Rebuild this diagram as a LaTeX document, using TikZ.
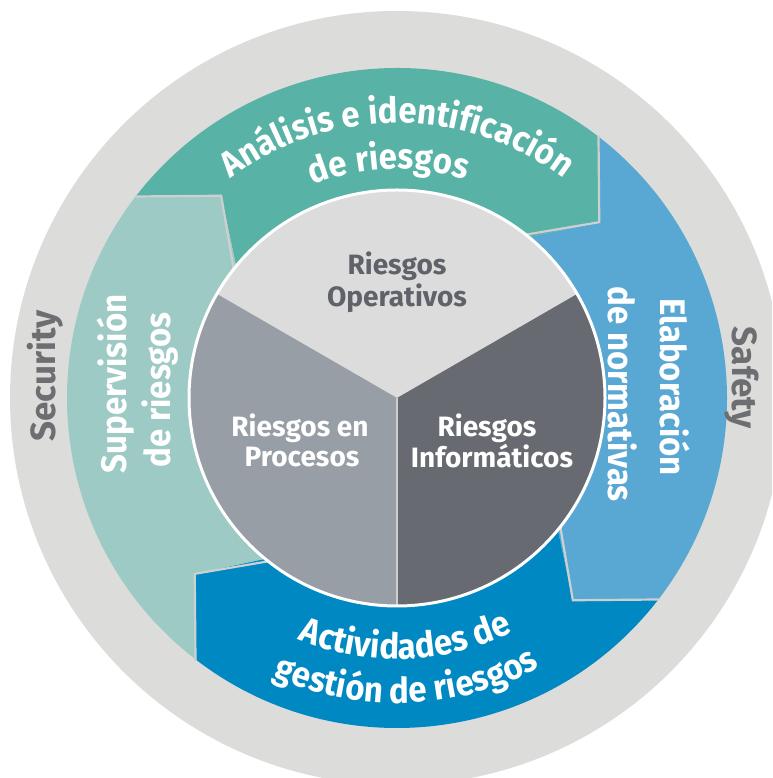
\documentclass[tikz,border=0pt]{standalone}
\usepackage{fontspec}
\setmainfont{Fira Sans}
\newfontfamily\ringfam{Fira Sans}[FakeStretch=0.93]
\usetikzlibrary{decorations.text}
\definecolor{ringgray}{HTML}{DCDCDB}
\definecolor{tealA}{HTML}{58B2A6}
\definecolor{tealB}{HTML}{9DCAC4}
\definecolor{blueA}{HTML}{59A8D4}
\definecolor{blueB}{HTML}{0088C2}
\definecolor{sectop}{HTML}{DCDCDC}
\definecolor{secleft}{HTML}{979EA5}
\definecolor{secright}{HTML}{676A70}
\definecolor{txtdark}{HTML}{5F6268}
\definecolor{txtgray}{HTML}{6D6E71}
\definecolor{edgegray}{HTML}{CDD0D1}
\newcommand\ringfont{\ringfam\fontsize{35.5}{42}\selectfont\bfseries}
\newcommand\innerfont{\fontsize{28}{33}\selectfont\bfseries}
\newcommand\outfont{\fontsize{35}{42}\selectfont\bfseries}
\begin{document}
\begin{tikzpicture}[x=1pt,y=1pt,
  junction/.style={draw=edgegray, line width=2.2pt, line join=miter},
  innertext/.style={font=\innerfont, inner sep=0pt, anchor=base},
  ringlabel/.style={font=\ringfont, text=white, inner sep=0pt, anchor=base},
  outlabel/.style={font=\outfont, text=txtgray, inner sep=0pt, anchor=base}]
\useasboundingbox (0,0) rectangle (772,778);
\clip (0,0) rectangle (772,778);
\fill[white] (0,0) rectangle (772,778);
\begin{scope}[shift={(397,380)}]
  \fill[ringgray] (0,0) circle[radius=387];
  % ring segments (chevrons)
  \foreach \s/\e/\c in {142.5/52.5/tealA, 52.5/-37.5/blueA, -37.5/-127.5/blueB, 232.5/142.5/tealB}{
    \fill[\c] (\s:330) arc[start angle=\s, end angle=\e, radius=330]
      -- (\e-11.5:268) -- (\e:200)
      arc[start angle=\e, end angle=\s, radius=200]
      -- (\s-11.5:268) -- cycle;
  }
  \foreach \e in {52.5,-37.5,-127.5,142.5}{
    \draw[junction] (\e:331) -- (\e-11.5:268) -- (\e:205);
  }
  % inner circle
  \fill[sectop] (0,0) -- (30:208) arc[start angle=30, end angle=150, radius=208] -- cycle;
  \fill[secleft] (0,0) -- (150:208) arc[start angle=150, end angle=270, radius=208] -- cycle;
  \fill[secright] (0,0) -- (270:208) arc[start angle=270, end angle=390, radius=208] -- cycle;
  \draw[edgegray, line width=2.5pt] (0,0) -- (270:208);
  \draw[white, line width=3pt] (0,0) circle[radius=208];
  % inner texts
  \node[innertext, text=txtdark] (op1) at (0,123) {Riesgos};
  \node[innertext, text=txtdark] (op2) at (0,91) {Operativos};
  \node[innertext, text=white] (pr1) at (-97,-39) {Riesgos en};
  \node[innertext, text=white] (pr2) at (-95,-69) {Procesos};
  \node[innertext, text=white] (in1) at (90,-39) {Riesgos};
  \node[innertext, text=white] (in2) at (95,-70) {Informáticos};
  % curved ring texts
  \path[decorate, decoration={text along path, text align=center, text color=white,
      text={|\ringfont|Análisis e identificación}}]
      (160:275) arc[start angle=160, end angle=20, radius=275];
  \path[decorate, decoration={text along path, text align=center, text color=white,
      text={|\ringfont|de riesgos}}]
      (162:229) arc[start angle=162, end angle=22, radius=229];
  \path[decorate, decoration={text along path, text align=center, text color=white,
      text={|\ringfont|Actividades de}}]
      (-150:261) arc[start angle=-150, end angle=-26, radius=261];
  \path[decorate, decoration={text along path, text align=center, text color=white,
      text={|\ringfont|gestión de riesgos}}]
      (-150:305) arc[start angle=-150, end angle=-26, radius=305];
  % straight rotated ring texts
  \node[ringlabel, rotate=90] (sup1) at (-271,14) {Supervisión};
  \node[ringlabel, rotate=90] (sup2) at (-227,8) {de riesgos};
  \node[ringlabel, rotate=-90] (ela1) at (263,11) {Elaboración};
  \node[ringlabel, rotate=-90] (ela2) at (211,4) {de normativas};
  % outer labels
  \node[outlabel, rotate=90] (sec) at (-342,22) {Security};
  \node[outlabel, rotate=-90] (saf) at (335,20) {Safety};
\end{scope}
\end{tikzpicture}
\end{document}
